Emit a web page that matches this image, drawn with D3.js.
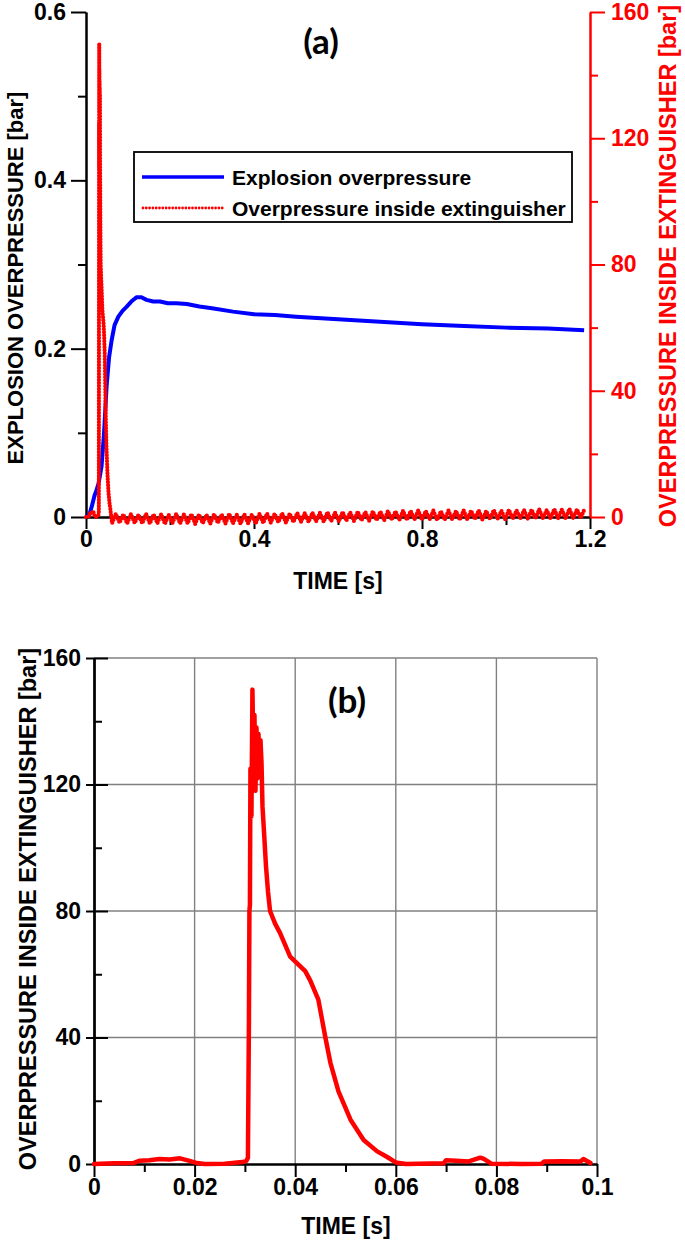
<!DOCTYPE html>
<html><head><meta charset="utf-8">
<script src="https://cdn.jsdelivr.net/npm/d3@7"></script>
<style>
body{margin:0;background:#fff;}
svg text{font-family:"Liberation Sans",Arial,sans-serif;font-weight:bold;}
</style>
</head><body>
<svg id="chart" width="685" height="1244"></svg>
<script>
// ---------- tick values ----------
const aTimeTicks = [0, 0.4, 0.8, 1.2];
const aTimeMinor = [0.2, 0.6, 1.0];
const aLeftTicks = [0, 0.2, 0.4, 0.6];
const aLeftMinor = [0.1, 0.3, 0.5];
const aRightTicks = [0, 40, 80, 120, 160];
const aRightMinor = [20, 60, 100, 140];
const bTimeTicks = [0, 0.02, 0.04, 0.06, 0.08, 0.1];
const bTimeMinor = [0.01, 0.03, 0.05, 0.07, 0.09];
const bLeftTicks = [0, 40, 80, 120, 160];
const bLeftMinor = [20, 60, 100, 140];

// ---------- series names ----------
const seriesNames = ["Explosion overpressure", "Overpressure inside extinguisher"];

// ---------- (a) explosion overpressure [bar] ----------
const aBlueTime = [0, 0.008, 0.0135, 0.02, 0.025, 0.03, 0.037, 0.043, 0.049, 0.055, 0.061, 0.068, 0.077, 0.087, 0.097, 0.11, 0.12, 0.132, 0.144, 0.16, 0.176, 0.195, 0.215, 0.24, 0.27, 0.3, 0.35, 0.4, 0.45, 0.5, 0.6, 0.7, 0.8, 0.9, 1.0, 1.1, 1.186];
const aBlueValue = [0, 0.003, 0.012, 0.025, 0.032, 0.04, 0.06, 0.1, 0.155, 0.19, 0.21, 0.228, 0.238, 0.245, 0.25, 0.257, 0.261, 0.261, 0.258, 0.256, 0.256, 0.254, 0.254, 0.253, 0.25, 0.248, 0.244, 0.241, 0.24, 0.238, 0.235, 0.232, 0.229, 0.227, 0.225, 0.224, 0.222];

// ---------- overpressure inside extinguisher [bar], detail (b) ----------
const bTime = [0, 0.004, 0.0078, 0.009, 0.011, 0.013, 0.015, 0.0171, 0.019, 0.0205, 0.022, 0.026, 0.0295, 0.0303, 0.0306, 0.0308, 0.0309, 0.031, 0.0311, 0.0313, 0.0315, 0.0317, 0.0319, 0.0321, 0.0323, 0.0325, 0.0327, 0.0329, 0.0331, 0.0333, 0.0335, 0.0338, 0.0342, 0.0346, 0.035, 0.036, 0.037, 0.039, 0.0407, 0.042, 0.043, 0.0446, 0.046, 0.047, 0.0486, 0.051, 0.0536, 0.0563, 0.0582, 0.06, 0.062, 0.0695, 0.07, 0.072, 0.0745, 0.0768, 0.0775, 0.079, 0.085, 0.089, 0.0895, 0.093, 0.0967, 0.0973, 0.0987];
const bValue = [0, 0.2, 0.3, 1.0, 1.2, 1.6, 1.4, 1.8, 1.0, 0.3, 0, 0.1, 0.6, 1.0, 2, 45, 80, 82, 125, 110, 150, 128, 142, 118, 138, 122, 136, 124, 134, 127, 113, 105, 94, 86, 80, 76, 73, 65.6, 63, 61, 58, 52, 40, 32, 23, 14, 7.6, 4, 2.3, 0.5, 0, 0.2, 1.2, 1.0, 0.8, 2.0, 1.6, 0.1, 0, 0.1, 0.8, 0.9, 0.8, 1.6, 0.3];

// ---------- (a) extinguisher overpressure after the spike (uniform sampling) ----------
const aRedTailStart = 0.062;
const aRedTailStep = 0.009;
const aRedTailValue = [
  -2.0, 1.0, -1.8, 0.8, -2.1, 0.9, -1.9, 0.7, -2.0, 1.0,
  -2.1, 0.8, -2.0, 0.9, -2.2, 0.7, -1.9, 1.0, -2.1, 0.8,
  -2.0, 0.9, -2.2, 0.8, -2.0, 0.7, -2.1, 0.9, -1.9, 0.8,
  -2.1, 1.0, -2.0, 0.7, -2.2, 0.9, -2.0, 0.8, -2.1, 1.0,
  -1.9, 1.1, -1.8, 1.0, -1.7, 1.2, -1.8, 1.1, -1.6, 1.3,
  -1.5, 1.2, -1.6, 1.4, -1.4, 1.3, -1.5, 1.5, -1.3, 1.4,
  -1.4, 1.6, -1.2, 1.5, -1.3, 1.7, -1.1, 1.6, -1.2, 1.8,
  -1.0, 1.7, -1.1, 1.9, -0.9, 1.8, -1.0, 2.0, -0.9, 1.9,
  -0.8, 2.1, -0.9, 1.9, -0.8, 2.0, -1.0, 1.8, -0.9, 2.0,
  -0.8, 1.9, -0.9, 2.1, -0.8, 2.0, -0.7, 2.1, -0.9, 1.9,
  -0.7, 2.2, -0.6, 2.0, -0.7, 2.3, -0.6, 2.1, -0.5, 2.2,
  -0.6, 2.3, -0.5, 2.4, -0.4, 2.2, -0.5, 2.5, -0.4, 2.3,
  -0.5, 2.6, -0.4, 2.4, -0.3, 2.5
];

// ---------- build series ----------
const blueSeries = aBlueTime.map((t, i) => ({t, v: aBlueValue[i]}));
const bSeries = bTime.map((t, i) => ({t, v: bValue[i]}));
const aRedSeries = bSeries.filter(d => d.t <= 0.0582)
  .concat(aRedTailValue.map((v, i) => ({t: aRedTailStart + i * aRedTailStep, v})));

const RED = "#ff0000", BLUE = "#0000ff";
const svg = d3.select("#chart");
const TICKFS = 23;

function styleAxis(g, color, fs) {
  g.attr("font-family", null).attr("font-size", null);
  g.select(".domain").attr("stroke", color).attr("stroke-width", 2);
  g.selectAll(".tick line").attr("stroke", color).attr("stroke-width", 2);
  g.selectAll(".tick text").attr("fill", color).attr("font-size", fs)
    .attr("font-family", "'Liberation Sans', Arial, sans-serif").attr("font-weight", "bold");
}
const fmt = d => String(d);

// ================= (a) =================
const xA = d3.scaleLinear([0, 1.2], [86, 590]);
const yA = d3.scaleLinear([0, 0.6], [517, 12]);
const yA2 = d3.scaleLinear([0, 160], [517, 12]);

// left axis
svg.append("g").attr("transform", `translate(${xA(0)},0)`)
  .call(d3.axisLeft(yA).tickValues(aLeftMinor).tickSize(8).tickSizeOuter(0).tickFormat(""))
  .call(g => styleAxis(g, "#000", TICKFS));
svg.append("g").attr("transform", `translate(${xA(0)},0)`)
  .call(d3.axisLeft(yA).tickValues(aLeftTicks).tickSize(15).tickSizeOuter(0).tickPadding(5).tickFormat(fmt))
  .call(g => styleAxis(g, "#000", TICKFS));
// bottom axis
svg.append("g").attr("transform", `translate(0,${yA(0)})`)
  .call(d3.axisBottom(xA).tickValues(aTimeMinor).tickSize(8).tickSizeOuter(0).tickFormat(""))
  .call(g => styleAxis(g, "#000", TICKFS));
svg.append("g").attr("transform", `translate(0,${yA(0)})`)
  .call(d3.axisBottom(xA).tickValues(aTimeTicks).tickSize(12).tickSizeOuter(0).tickPadding(2).tickFormat(fmt))
  .call(g => styleAxis(g, "#000", TICKFS));
// right axis
svg.append("g").attr("transform", `translate(${xA(1.2)},0)`)
  .call(d3.axisRight(yA2).tickValues(aRightMinor).tickSize(8).tickSizeOuter(0).tickFormat(""))
  .call(g => styleAxis(g, RED, TICKFS));
svg.append("g").attr("transform", `translate(${xA(1.2)},0)`)
  .call(d3.axisRight(yA2).tickValues(aRightTicks).tickSize(15).tickSizeOuter(0).tickPadding(6).tickFormat(fmt))
  .call(g => styleAxis(g, RED, TICKFS));

// data (a)
svg.append("path").datum(blueSeries)
  .attr("fill", "none").attr("stroke", BLUE).attr("stroke-width", 4)
  .attr("stroke-linejoin", "round")
  .attr("d", d3.line().x(d => xA(d.t)).y(d => yA(d.v)));
svg.append("path").datum(aRedSeries)
  .attr("fill", "none").attr("stroke", RED).attr("stroke-width", 4.2)
  .attr("stroke-linecap", "round").attr("stroke-dasharray", "0 3")
  .attr("d", d3.line().x(d => xA(d.t)).y(d => yA2(d.v)));

// titles (a)
svg.append("text").attr("transform", `translate(15,278) rotate(-90)`)
  .attr("text-anchor", "middle").attr("dominant-baseline", "central")
  .attr("font-size", 22).text("EXPLOSION OVERPRESSURE [bar]");
svg.append("text").attr("transform", `translate(668,266) rotate(-90)`)
  .attr("text-anchor", "middle").attr("dominant-baseline", "central")
  .attr("fill", RED).attr("font-size", 23.5).text("OVERPRESSURE INSIDE EXTINGUISHER [bar]");
svg.append("text").attr("x", 338).attr("y", 589).attr("text-anchor", "middle")
  .attr("font-size", 23).text("TIME [s]");
svg.append("text").attr("x", 321).attr("y", 54).attr("text-anchor", "middle")
  .style("font-family", "Lato, 'Open Sans', sans-serif").attr("font-size", 35).text("(a)");

// legend (a)
const lg = svg.append("g");
lg.append("rect").attr("x", 134).attr("y", 152).attr("width", 438).attr("height", 70)
  .attr("fill", "#fff").attr("stroke", "#000").attr("stroke-width", 1.8);
lg.append("line").attr("x1", 142).attr("x2", 224).attr("y1", 177).attr("y2", 177)
  .attr("stroke", BLUE).attr("stroke-width", 3.5);
lg.append("line").attr("x1", 143).attr("x2", 224).attr("y1", 208).attr("y2", 208)
  .attr("stroke", RED).attr("stroke-width", 2.8).attr("stroke-linecap", "round").attr("stroke-dasharray", "0 3.3");
lg.append("text").attr("x", 232).attr("y", 185).attr("font-size", 21).text(seriesNames[0]);
lg.append("text").attr("x", 232).attr("y", 216).attr("font-size", 21).text(seriesNames[1]);

// ================= (b) =================
const xB = d3.scaleLinear([0, 0.1], [94, 597]);
const yB = d3.scaleLinear([0, 160], [1164, 658]);

// grid
svg.append("g").selectAll("line.v").data(bTimeTicks.filter(d => d > 0)).join("line")
  .attr("x1", d => xB(d)).attr("x2", d => xB(d)).attr("y1", yB(160)).attr("y2", yB(0))
  .attr("stroke", "#808080").attr("stroke-width", 1.4);
svg.append("g").selectAll("line.h").data(bLeftTicks.filter(d => d > 0)).join("line")
  .attr("x1", xB(0)).attr("x2", xB(0.1)).attr("y1", d => yB(d)).attr("y2", d => yB(d))
  .attr("stroke", "#808080").attr("stroke-width", 1.4);

// left axis (b)
svg.append("g").attr("transform", `translate(${xB(0)},0)`)
  .call(d3.axisRight(yB).tickValues(bLeftMinor).tickSize(8).tickSizeOuter(0).tickFormat(""))
  .call(g => styleAxis(g, "#000", TICKFS));
svg.append("g").attr("transform", `translate(${xB(0)},0)`)
  .call(d3.axisRight(yB).tickValues(bLeftTicks.filter(d => d > 0)).tickSize(14).tickSizeOuter(0).tickFormat(""))
  .call(g => styleAxis(g, "#000", TICKFS));
svg.append("g").attr("transform", `translate(${xB(0)},0)`)
  .call(d3.axisLeft(yB).tickValues(bLeftTicks).tickSize(8).tickSizeOuter(0).tickPadding(5).tickFormat(fmt))
  .call(g => styleAxis(g, "#000", TICKFS));
// bottom axis (b)
svg.append("g").attr("transform", `translate(0,${yB(0)})`)
  .call(d3.axisBottom(xB).tickValues(bTimeMinor).tickSize(8).tickSizeOuter(0).tickFormat(""))
  .call(g => styleAxis(g, "#000", TICKFS));
svg.append("g").attr("transform", `translate(0,${yB(0)})`)
  .call(d3.axisBottom(xB).tickValues(bTimeTicks).tickSize(13).tickSizeOuter(0).tickPadding(2).tickFormat(fmt))
  .call(g => styleAxis(g, "#000", TICKFS));

// data (b)
svg.append("path").datum(bSeries)
  .attr("fill", "none").attr("stroke", RED).attr("stroke-width", 4.5)
  .attr("stroke-linejoin", "round").attr("stroke-linecap", "round")
  .attr("d", d3.line().x(d => xB(d.t)).y(d => yB(d.v)));

// titles (b)
svg.append("text").attr("transform", `translate(28,909) rotate(-90)`)
  .attr("text-anchor", "middle").attr("dominant-baseline", "central")
  .attr("font-size", 23.5).text("OVERPRESSURE INSIDE EXTINGUISHER [bar]");
svg.append("text").attr("x", 346).attr("y", 1234).attr("text-anchor", "middle")
  .attr("font-size", 23).text("TIME [s]");
svg.append("text").attr("x", 347).attr("y", 713).attr("text-anchor", "middle")
  .style("font-family", "Lato, 'Open Sans', sans-serif").attr("font-size", 35).text("(b)");
</script>
</body></html>
